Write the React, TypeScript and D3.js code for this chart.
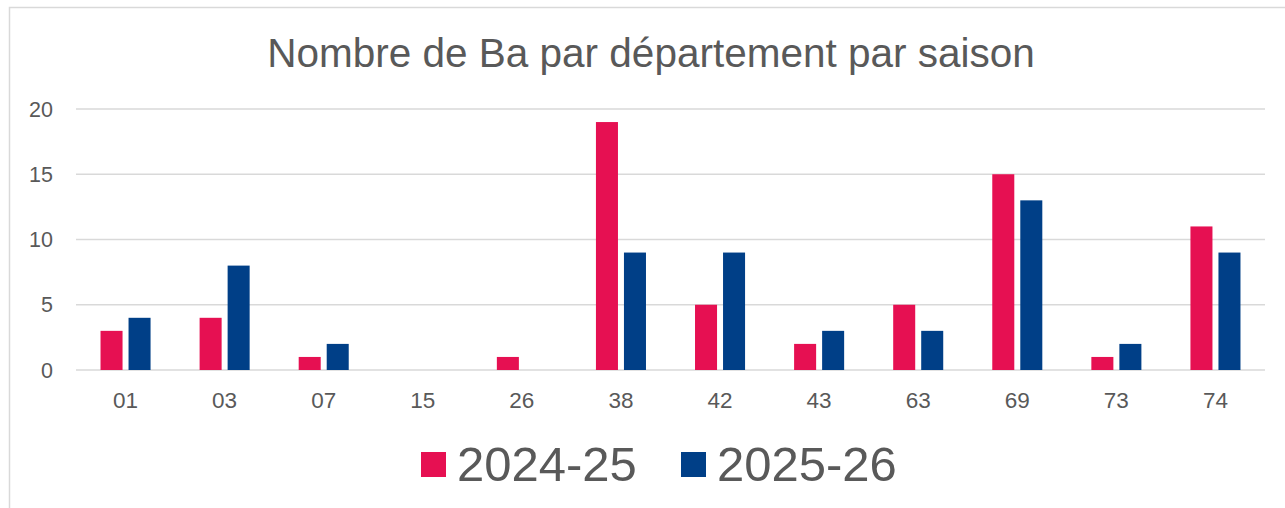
import { useEffect, useRef } from "react";
import * as d3 from "d3";

const departments = ["01", "03", "07", "15", "26", "38", "42", "43", "63", "69", "73", "74"];
const seasons = ["2024-25", "2025-26"];
const values2024 = [3, 4, 1, 0, 1, 19, 5, 2, 5, 15, 1, 11];
const values2025 = [4, 8, 2, 0, 0, 9, 9, 3, 3, 13, 2, 9];
const yTicks = [0, 5, 10, 15, 20];
const seasonColors = ["#E61052", "#003F87"];

const width = 1285;
const height = 508;
const margin = { top: 109, right: 20, bottom: 138, left: 76 };
const font = "'Liberation Sans', Arial, sans-serif";
const textColor = "#595959";

export default function App() {
  const svgRef = useRef<SVGSVGElement | null>(null);

  useEffect(() => {
    if (!svgRef.current) return;
    const svg = d3.select(svgRef.current);
    svg.selectAll("*").remove();

    const series = [values2024, values2025];
    const rows = departments.map((dep, i) => ({
      dep,
      values: seasons.map((s, k) => ({ season: s, value: series[k][i] })),
    }));

    const x = d3
      .scaleBand<string>()
      .domain(departments)
      .range([margin.left, width - margin.right])
      .paddingInner(0)
      .paddingOuter(0);

    const groupWidth = x.bandwidth() * 0.505;
    const xInner = d3
      .scaleBand<string>()
      .domain(seasons)
      .range([-groupWidth / 2, groupWidth / 2])
      .paddingInner(0.214)
      .paddingOuter(0);

    const y = d3
      .scaleLinear()
      .domain([0, 20])
      .range([height - margin.bottom, margin.top]);

    // chart frame (cropped on the right and bottom)
    svg
      .append("rect")
      .attr("x", 9.5)
      .attr("y", 7.5)
      .attr("width", width + 20)
      .attr("height", height + 20)
      .attr("fill", "#fff")
      .attr("stroke", "#d9d9d9")
      .attr("stroke-width", 1.5);

    svg
      .append("text")
      .attr("x", 651)
      .attr("y", 67)
      .attr("text-anchor", "middle")
      .attr("fill", textColor)
      .style("font-family", font)
      .style("font-size", "40.5px")
      .text("Nombre de Ba par département par saison");

    // gridlines
    svg
      .append("g")
      .selectAll("line")
      .data(yTicks)
      .join("line")
      .attr("x1", margin.left)
      .attr("x2", width - margin.right)
      .attr("y1", (d) => y(d))
      .attr("y2", (d) => y(d))
      .attr("stroke", "#d9d9d9")
      .attr("stroke-width", 1.5);

    svg
      .append("g")
      .selectAll("text")
      .data(yTicks)
      .join("text")
      .attr("x", 53)
      .attr("y", (d) => y(d))
      .attr("dy", "0.35em")
      .attr("text-anchor", "end")
      .attr("fill", textColor)
      .style("font-family", font)
      .style("font-size", "21.5px")
      .text((d) => d);

    const groups = svg
      .append("g")
      .selectAll("g")
      .data(rows)
      .join("g")
      .attr("transform", (d) => `translate(${x(d.dep)! + x.bandwidth() / 2},0)`);

    groups
      .selectAll("rect")
      .data((d) => d.values)
      .join("rect")
      .attr("x", (d) => xInner(d.season)!)
      .attr("width", xInner.bandwidth())
      .attr("y", (d) => y(d.value))
      .attr("height", (d) => y(0) - y(d.value))
      .attr("fill", (d, i) => seasonColors[i]);

    svg
      .append("g")
      .selectAll("text")
      .data(departments)
      .join("text")
      .attr("x", (d) => x(d)! + x.bandwidth() / 2)
      .attr("y", 408)
      .attr("text-anchor", "middle")
      .attr("fill", textColor)
      .style("font-family", font)
      .style("font-size", "22.5px")
      .text((d) => d);

    // legend
    const legendX = [421, 681];
    const legend = svg
      .append("g")
      .selectAll("g")
      .data(seasons)
      .join("g")
      .attr("transform", (d, i) => `translate(${legendX[i]},452)`);
    legend
      .append("rect")
      .attr("width", 25)
      .attr("height", 25)
      .attr("fill", (d, i) => seasonColors[i]);
    legend
      .append("text")
      .attr("x", 36)
      .attr("y", 29)
      .attr("fill", textColor)
      .style("font-family", font)
      .style("font-size", "49px")
      .text((d) => d);
  }, []);

  return (
    <svg
      ref={svgRef}
      width={width}
      height={height}
      style={{ position: "absolute", left: 0, top: 0, background: "#fff" }}
    />
  );
}
